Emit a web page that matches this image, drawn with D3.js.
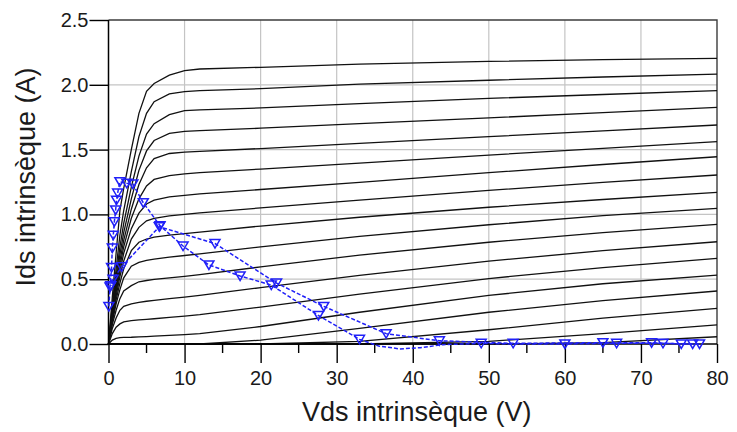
<!DOCTYPE html>
<html>
<head>
<meta charset="utf-8">
<script src="https://cdn.jsdelivr.net/npm/d3@7"></script>
<style>
  body { margin: 0; background: #fff; }
  svg { display: block; font-family: "Liberation Sans", Arial, sans-serif; }
</style>
</head>
<body>
<svg id="chart"></svg>
<script>
const width = 737, height = 432;

// Vds sample points shared by every Ids(Vds) curve
const vdsGrid = [0, 0.5, 1, 1.5, 2, 3, 4, 5, 6, 8, 10, 12, 20, 33, 50, 65, 80];

// one row per gate voltage, top curve first (A)
const idsFamily = [
  [0, 0.36, 0.70, 1.03, 1.20, 1.50, 1.78, 1.95, 2.01, 2.075, 2.11, 2.122, 2.135, 2.16, 2.18, 2.195, 2.204],
  [0, 0.30, 0.58, 0.84, 1.03, 1.33, 1.60, 1.78, 1.87, 1.93, 1.947, 1.955, 1.97, 2.005, 2.035, 2.06, 2.083],
  [0, 0.27, 0.52, 0.75, 0.93, 1.21, 1.45, 1.62, 1.70, 1.77, 1.80, 1.806, 1.822, 1.855, 1.895, 1.925, 1.955],
  [0, 0.25, 0.48, 0.69, 0.86, 1.12, 1.34, 1.49, 1.57, 1.625, 1.64, 1.646, 1.665, 1.70, 1.745, 1.785, 1.826],
  [0, 0.23, 0.45, 0.64, 0.80, 1.04, 1.23, 1.36, 1.43, 1.47, 1.48, 1.487, 1.508, 1.548, 1.60, 1.645, 1.69],
  [0, 0.22, 0.42, 0.60, 0.75, 0.97, 1.12, 1.22, 1.27, 1.30, 1.312, 1.322, 1.35, 1.395, 1.458, 1.51, 1.561],
  [0, 0.21, 0.40, 0.56, 0.70, 0.89, 1.01, 1.08, 1.11, 1.135, 1.147, 1.158, 1.192, 1.247, 1.322, 1.385, 1.445],
  [0, 0.20, 0.37, 0.52, 0.64, 0.81, 0.90, 0.95, 0.97, 0.988, 1.0, 1.012, 1.05, 1.11, 1.185, 1.247, 1.304],
  [0, 0.18, 0.34, 0.47, 0.58, 0.72, 0.785, 0.81, 0.825, 0.84, 0.852, 0.864, 0.91, 0.978, 1.055, 1.115, 1.17],
  [0, 0.17, 0.31, 0.42, 0.51, 0.60, 0.63, 0.645, 0.655, 0.67, 0.683, 0.695, 0.75, 0.83, 0.92, 0.99, 1.047],
  [0, 0.15, 0.26, 0.35, 0.41, 0.45, 0.48, 0.49, 0.498, 0.51, 0.522, 0.535, 0.595, 0.685, 0.785, 0.86, 0.923],
  [0, 0.12, 0.20, 0.26, 0.29, 0.31, 0.322, 0.33, 0.337, 0.35, 0.362, 0.375, 0.435, 0.53, 0.64, 0.72, 0.789],
  [0, 0.08, 0.13, 0.155, 0.17, 0.18, 0.186, 0.19, 0.195, 0.205, 0.215, 0.226, 0.285, 0.385, 0.505, 0.59, 0.661],
  [0, 0.03, 0.043, 0.049, 0.051, 0.052, 0.055, 0.057, 0.06, 0.066, 0.073, 0.08, 0.135, 0.245, 0.375, 0.465, 0.532],
  [0, 0, 0, 0, 0, 0, 0, 0, 0, 0, 0, 0, 0.03, 0.12, 0.245, 0.335, 0.409],
  [0, 0, 0, 0, 0, 0, 0, 0, 0, 0, 0, 0, 0, 0.02, 0.11, 0.20, 0.275],
  [0, 0, 0, 0, 0, 0, 0, 0, 0, 0, 0, 0, 0, 0, 0.02, 0.08, 0.147],
  [0, 0, 0, 0, 0, 0, 0, 0, 0, 0, 0, 0, 0, 0, 0, 0.01, 0.056]
];

// dynamic load line, branch going up the left edge then down to 0 A
const loadLineA = [
  [0.05, 0.29], [0.2, 0.44], [0.4, 0.59], [0.5, 0.74], [0.63, 0.84], [0.77, 0.944],
  [0.94, 1.034], [1.05, 1.11], [1.2, 1.165], [1.5, 1.252], [2.4, 1.24], [3.2, 1.235],
  [4.57, 1.09], [6.77, 0.913], [9.8, 0.756], [13.2, 0.61], [17.3, 0.525], [21.4, 0.455],
  [27.6, 0.22], [33.0, 0.036], [35.5, -0.015], [38.3, -0.038], [41.0, -0.028], [44.0, -0.005],
  [49.0, 0.005], [53.0, 0.0], [60.0, 0.0], [66.8, 0.005], [72.9, 0.005], [76.8, 0.0]
];
const markersA = [
  [0.05, 0.29], [0.2, 0.44], [0.4, 0.59], [0.5, 0.74], [0.63, 0.84], [0.77, 0.944],
  [0.94, 1.034], [1.05, 1.11], [1.2, 1.165], [1.5, 1.252], [2.4, 1.24], [3.2, 1.235],
  [4.57, 1.09], [6.77, 0.913], [9.8, 0.756], [13.2, 0.61], [17.3, 0.525], [21.4, 0.455],
  [27.6, 0.22], [33.0, 0.036], [49.0, 0.005], [60.0, 0.0],
  [66.8, 0.005], [72.9, 0.005], [76.8, 0.0]
];
// return branch
const loadLineB = [
  [77.7, 0.0], [75.3, 0.0], [71.4, 0.01], [65.0, 0.01], [53.2, 0.005], [43.5, 0.025],
  [36.5, 0.08], [28.3, 0.29], [22.1, 0.47], [14.0, 0.775], [6.68, 0.905], [1.73, 0.596],
  [0.6, 0.5], [0.3, 0.45]
];
const markersB = loadLineB;

const xTicks = [0, 10, 20, 30, 40, 50, 60, 70, 80];
const xMinorTicks = [5, 15, 25, 35, 45, 55, 65, 75];
const yTicks = [0, 0.5, 1.0, 1.5, 2.0, 2.5];

const svg = d3.select("#chart").attr("width", width).attr("height", height);

const x = d3.scaleLinear().domain([0, 80]).range([108.5, 717]);
const y = d3.scaleLinear().domain([0, 2.5]).range([344, 20]);

// grid
svg.append("g").selectAll("line")
    .data(xTicks.slice(1, -1))
    .enter().append("line")
    .attr("x1", d => x(d)).attr("x2", d => x(d))
    .attr("y1", y(2.5)).attr("y2", y(0))
    .attr("stroke", "#c4c4c4").attr("stroke-width", 1.2);
svg.append("g").selectAll("line")
    .data(yTicks.slice(1, -1))
    .enter().append("line")
    .attr("x1", x(0)).attr("x2", x(80))
    .attr("y1", d => y(d)).attr("y2", d => y(d))
    .attr("stroke", "#c4c4c4").attr("stroke-width", 1.2);

// frame top / right
svg.append("path")
    .attr("d", `M${x(0)},${y(2.5)}H${x(80)}V${y(0)}`)
    .attr("fill", "none").attr("stroke", "#3c3c3c").attr("stroke-width", 1.4);

// Ids(Vds) family
const line = d3.line().x(d => x(d[0])).y(d => y(d[1]));
svg.append("g").selectAll("path")
    .data(idsFamily)
    .enter().append("path")
    .attr("d", row => line(vdsGrid.map((v, j) => [v, row[j]])))
    .attr("fill", "none")
    .attr("stroke", "#111")
    .attr("stroke-width", 1.3);

// axes
const xAxis = d3.axisBottom(x).tickValues(xTicks).tickSize(19).tickPadding(8).tickFormat(d3.format("d"));
const gx = svg.append("g").attr("transform", `translate(0,${y(0)})`).call(xAxis);
gx.selectAll(".tick line").attr("stroke", "#000").attr("stroke-width", 1.4);
svg.append("g").attr("transform", `translate(0,${y(0)})`).selectAll("line")
    .data(xMinorTicks)
    .enter().append("line")
    .attr("x1", d => x(d)).attr("x2", d => x(d))
    .attr("y1", 0).attr("y2", 9)
    .attr("stroke", "#000").attr("stroke-width", 1.4);

const yAxis = d3.axisLeft(y).tickValues(yTicks).tickSize(19).tickPadding(1).tickFormat(d3.format(".1f"));
const gy = svg.append("g").attr("transform", `translate(${x(0)},0)`).call(yAxis);
gy.selectAll(".tick line").attr("stroke", "#000").attr("stroke-width", 1.4);

[gx, gy].forEach(g => {
  g.select(".domain").remove();
  g.selectAll("text").attr("font-size", 20).attr("fill", "#1a1a1a")
      .attr("font-family", "'Liberation Sans', Arial, sans-serif");
});

svg.append("line")
    .attr("x1", x(0)).attr("x2", x(0)).attr("y1", y(2.5)).attr("y2", y(0))
    .attr("stroke", "#000").attr("stroke-width", 1.5);
svg.append("line")
    .attr("x1", x(0)).attr("x2", x(80)).attr("y1", y(0)).attr("y2", y(0))
    .attr("stroke", "#000").attr("stroke-width", 1.5);

// load lines
const blue = "#2020f8";
const curve = d3.line().x(d => x(d[0])).y(d => y(d[1]));
[loadLineA, loadLineB].forEach(pts => {
  svg.append("path")
      .attr("d", curve(pts))
      .attr("fill", "none")
      .attr("stroke", blue)
      .attr("stroke-width", 1.5)
      .attr("stroke-dasharray", "4,2");
});
const tri = "M-5,-4L5,-4L0,4.5Z";
svg.append("g").selectAll("path")
    .data(markersA.concat(markersB))
    .enter().append("path")
    .attr("d", tri)
    .attr("transform", d => `translate(${x(d[0])},${y(d[1])})`)
    .attr("fill", "none")
    .attr("stroke", blue)
    .attr("stroke-width", 1.5);

// titles
svg.append("text")
    .attr("x", (x(0) + x(80)) / 2 + 4).attr("y", 421)
    .attr("text-anchor", "middle")
    .attr("font-size", 27).attr("fill", "#1a1a1a")
    .text("Vds intrinsèque (V)");
svg.append("text")
    .attr("transform", `translate(35,${(y(0) + y(2.5)) / 2 - 5}) rotate(-90)`)
    .attr("text-anchor", "middle")
    .attr("font-size", 27).attr("fill", "#1a1a1a")
    .text("Ids intrinsèque (A)");
</script>
</body>
</html>
